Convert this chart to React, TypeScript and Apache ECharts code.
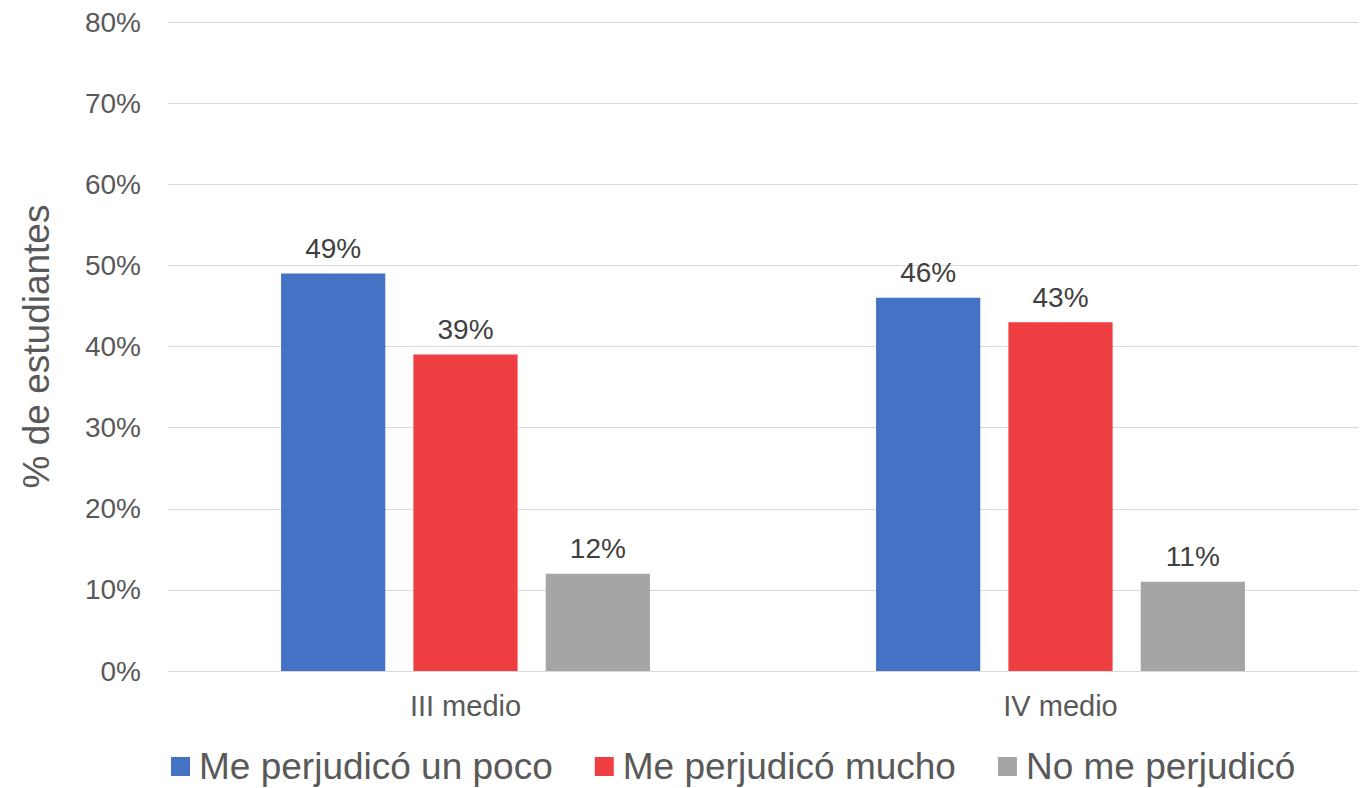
import React, { useEffect, useRef } from "react";
import * as echarts from "echarts";

const categories = ["III medio", "IV medio"];
const seriesNames = ["Me perjudicó un poco", "Me perjudicó mucho", "No me perjudicó"];
const poco = [49, 46];
const mucho = [39, 43];
const nada = [12, 11];
const colors = ["#4472C4", "#EF3E42", "#A5A5A5"];

export default function App() {
  const ref = useRef<HTMLDivElement>(null);
  useEffect(() => {
    const chart = echarts.init(ref.current!, null, { renderer: "svg" });
    const font = "'Liberation Sans', Arial, sans-serif";
    const mk = (name: string, data: number[], color: string) => ({
      name,
      type: "bar",
      data,
      barGap: "27%",
      barCategoryGap: "38%",
      itemStyle: { color },
      label: {
        show: true,
        position: "top",
        distance: 11,
        formatter: (p: any) => p.value + "%",
        color: "#404040",
        fontSize: 28,
        fontFamily: font,
      },
    });
    chart.setOption({
      animation: false,
      textStyle: { fontFamily: font },
      grid: { left: 168, right: 10, top: 22, bottom: 117 },
      legend: {
        top: 748,
        left: 171,
        padding: 0,
        itemWidth: 19,
        itemHeight: 19,
        itemGap: 42,
        icon: "rect",
        textStyle: { fontSize: 37, color: "#595959", fontFamily: font, padding: [0, 0, 0, 4] },
        data: seriesNames,
      },
      xAxis: {
        type: "category",
        data: categories,
        axisLine: { lineStyle: { color: "#D9D9D9" } },
        axisTick: { show: false },
        axisLabel: { fontSize: 29, color: "#595959", margin: 20, fontFamily: font },
      },
      yAxis: {
        type: "value",
        min: 0,
        max: 80,
        interval: 10,
        name: "% de estudiantes",
        nameLocation: "middle",
        nameGap: 113,
        nameTextStyle: { fontSize: 37, color: "#595959", fontFamily: font },
        axisLabel: {
          formatter: "{value}%",
          fontSize: 28,
          color: "#595959",
          margin: 27,
          fontFamily: font,
        },
        splitLine: { lineStyle: { color: "#D9D9D9" } },
        axisLine: { show: false },
        axisTick: { show: false },
      },
      series: [
        mk(seriesNames[0], poco, colors[0]),
        mk(seriesNames[1], mucho, colors[1]),
        mk(seriesNames[2], nada, colors[2]),
      ],
    });
    return () => chart.dispose();
  }, []);
  return (
    <div
      ref={ref}
      style={{ position: "fixed", left: 0, top: 0, width: 1368, height: 788, background: "#fff" }}
    />
  );
}
